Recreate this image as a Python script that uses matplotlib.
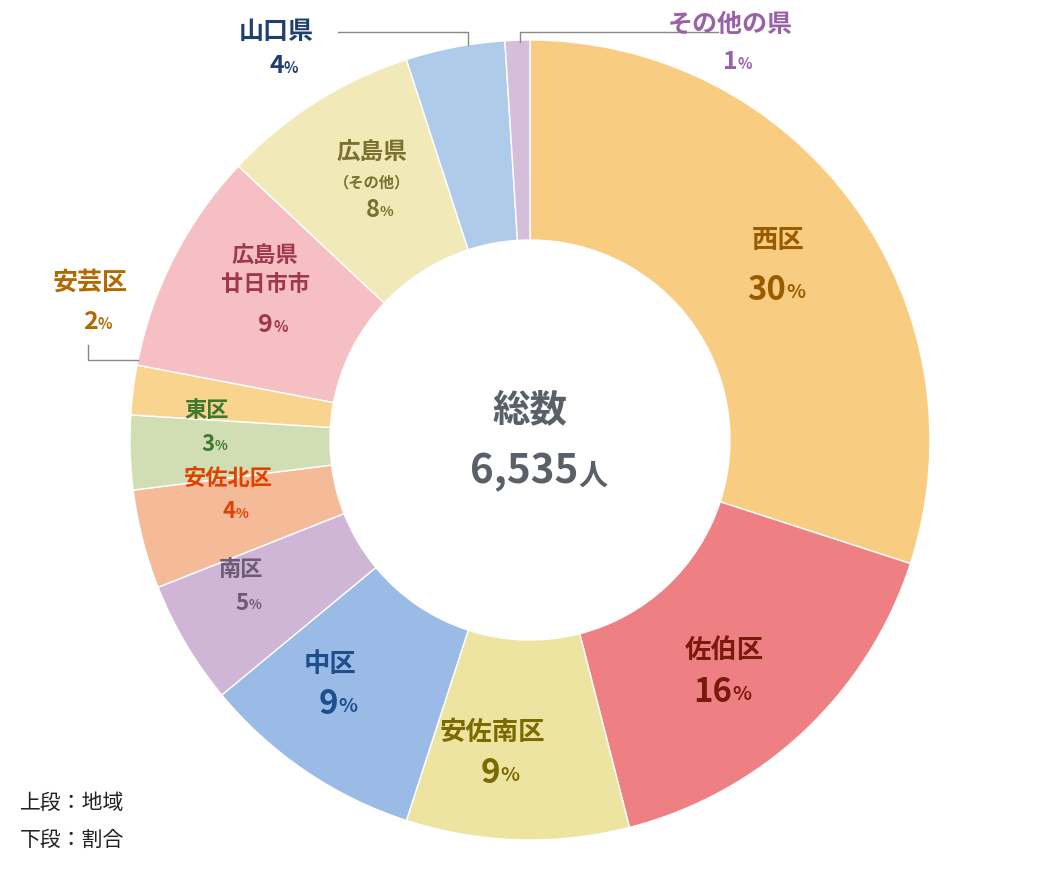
import matplotlib
matplotlib.use("Agg")
import matplotlib.pyplot as plt

plt.rcParams['font.family'] = ['Noto Sans CJK JP', 'DejaVu Sans']

names = ["西区", "佐伯区", "安佐南区", "中区", "南区", "安佐北区", "東区", "安芸区",
         "広島県\n廿日市市", "広島県", "山口県", "その他の県"]
shares = [30, 16, 9, 9, 5, 4, 3, 2, 9, 8, 4, 1]
total = "6,535"
colors = ["#F8CD82", "#EE8084", "#EEE4A2", "#9ABBE5", "#CFB5D6", "#F5BB98",
          "#D1DDB2", "#F9D48F", "#F5BFC3", "#F1E9B7", "#AECBEA", "#D6BEDB"]
text_colors = ["#9A5B00", "#7A1A0A", "#7A6A00", "#1F4E8C", "#6E5A78", "#E04000",
               "#3D7A30", "#B06A00", "#A0384A", "#7A7030", "#1F3F70", "#9A60A8"]
# label pixel positions: (name y, pct y, x, size)
label_pos = [(240, 290, 778, 19), (650, 692, 724, 19), (732, 773, 492, 19),
             (665, 705, 330, 19), (570, 603, 241, 16), (478, 512, 228, 16),
             (410, 444, 207, 16), (283, 322, 90, 18), (270, 325, 265, 16),
             (152, 210, 372, 17), (32, 66, 276, 18), (25, 62, 730, 18)]

W, H = 1060, 880
fig = plt.figure(figsize=(W / 100, H / 100), dpi=100)
ax = fig.add_axes([0, 0, 1, 1])

ax.pie(shares, colors=colors, startangle=90, counterclock=False,
       center=(530, H - 440), radius=400, frame=True,
       wedgeprops=dict(width=200, edgecolor='white', linewidth=1))
ax.set_xlim(0, W)
ax.set_ylim(0, H)
ax.set_aspect('equal')
ax.axis('off')

def Y(p):
    return H - p

for n, s, c, (ny, py, x, fs) in zip(names, shares, text_colors, label_pos):
    ax.text(x, Y(ny), n, ha='center', va='center', fontsize=fs, color=c,
            fontweight='bold', linespacing=1.3)
    if n == "広島県":
        ax.text(x, Y(182), "（その他）", ha='center', va='center', fontsize=11,
                color=c, fontweight='bold')
    big = fs * 1.25 if s >= 9 and fs >= 19 else fs
    if n.startswith("広島県\n"):
        big = 18
    ax.text(x + 8, Y(py), str(s), ha='right', va='center', fontsize=big,
            color=c, fontweight='bold')
    ax.text(x + 8, Y(py) - 2, "%", ha='left', va='center', fontsize=big * 0.6,
            color=c, fontweight='bold')

# leader lines
lc = "#888888"
ax.plot([338, 468, 468], [Y(32), Y(32), Y(45)], color=lc, lw=1)
ax.plot([718, 520, 520], [Y(32), Y(32), Y(42)], color=lc, lw=1)
ax.plot([88, 88, 138], [Y(345), Y(360), Y(360)], color=lc, lw=1)

ax.text(530, Y(410), "総数", ha='center', va='center', fontsize=27,
        color="#5A6068", fontweight='bold')
ax.text(578, Y(472), total, ha='right', va='center', fontsize=29,
        color="#5A6068", fontweight='bold')
ax.text(578, Y(476), "人", ha='left', va='center', fontsize=21,
        color="#5A6068", fontweight='bold')

ax.text(20, Y(803), "上段：地域", ha='left', va='center', fontsize=15, color="#222222")
ax.text(20, Y(840), "下段：割合", ha='left', va='center', fontsize=15, color="#222222")

fig.savefig("out.png", dpi=100)
